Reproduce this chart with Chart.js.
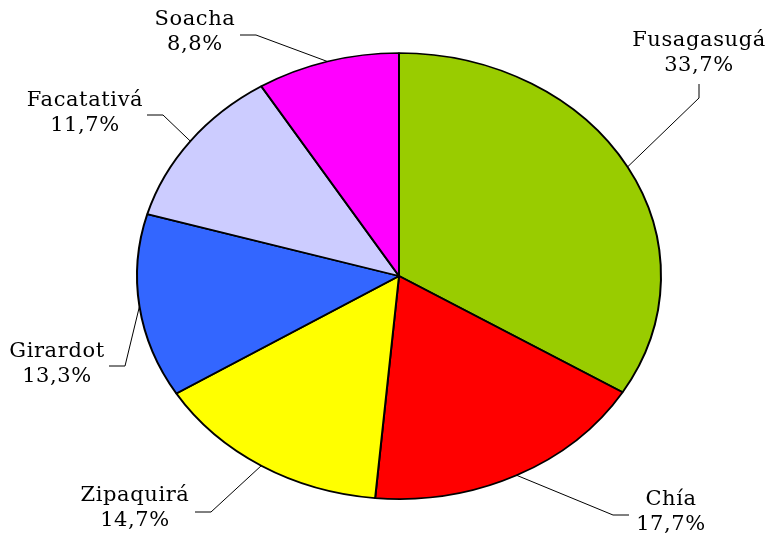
<!DOCTYPE html>
<html>
<head>
<meta charset="utf-8">
<script src="https://cdn.jsdelivr.net/npm/chart.js@4"></script>
<style>
html,body{margin:0;padding:0;background:#fff;}
#wrap{width:769px;height:537px;}
</style>
</head>
<body>
<div id="wrap"><canvas id="c" width="769" height="537"></canvas></div>
<script>
const categories = ['Fusagasugá', 'Chía', 'Zipaquirá', 'Girardot', 'Facatativá', 'Soacha'];
const percentages = [33.7, 17.7, 14.7, 13.3, 11.7, 8.8];
const sliceColors = ['#99CC00', '#FF0000', '#FFFF00', '#3366FF', '#CCCCFF', '#FF00FF'];

// Layout for the outside labels (knee point, line end, text centre), in canvas pixels
const labelLayout = [
  {knee: [699, 98], end: [699, 84], text: [699, 41]},
  {knee: [613, 515], end: [629, 515], text: [671, 500]},
  {knee: [211, 512], end: [195, 512], text: [135, 496]},
  {knee: [125, 366], end: [109, 366], text: [57, 352]},
  {knee: [163, 115], end: [147, 115], text: [85, 101]},
  {knee: [256, 35], end: [240, 35], text: [195, 20]}
];

const RX = 262, RY = 223;
const K = RY / RX;
const FONT = '21px "DejaVu Serif"';

const ellipsePlugin = {
  id: 'ellipse',
  beforeDatasetsDraw(chart) {
    const arc = chart.getDatasetMeta(0).data[0];
    const ctx = chart.ctx;
    ctx.save();
    ctx.translate(arc.x, arc.y);
    ctx.scale(1, K);
    ctx.translate(-arc.x, -arc.y);
  },
  afterDatasetsDraw(chart) {
    chart.ctx.restore();
  },
  afterDraw(chart) {
    const ctx = chart.ctx;
    const meta = chart.getDatasetMeta(0);
    ctx.save();
    ctx.strokeStyle = '#000';
    ctx.lineWidth = 1;
    ctx.fillStyle = '#000';
    ctx.font = FONT;
    if ('letterSpacing' in ctx) ctx.letterSpacing = '0.6px';
    ctx.textAlign = 'center';
    ctx.textBaseline = 'middle';
    meta.data.forEach((a, i) => {
      const mid = (a.startAngle + a.endAngle) / 2;
      const px = a.x + a.outerRadius * Math.cos(mid);
      const py = a.y + a.outerRadius * Math.sin(mid) * K;
      const L = labelLayout[i];
      ctx.beginPath();
      ctx.moveTo(px, py);
      ctx.lineTo(L.knee[0], L.knee[1]);
      ctx.lineTo(L.end[0], L.end[1]);
      ctx.stroke();
      ctx.fillText(categories[i], L.text[0], L.text[1]);
      ctx.fillText(percentages[i].toFixed(1).replace('.', ',') + '%', L.text[0], L.text[1] + 25);
    });
    ctx.restore();
  }
};

new Chart(document.getElementById('c'), {
  type: 'pie',
  data: {
    labels: categories,
    datasets: [{
      data: percentages,
      backgroundColor: sliceColors,
      borderColor: '#000000',
      borderWidth: 2,
      borderAlign: 'center',
      radius: RX,
      clip: false
    }]
  },
  options: {
    responsive: false,
    animation: false,
    events: [],
    layout: {padding: {left: 29, right: 0, top: 15, bottom: 0}},
    plugins: {legend: {display: false}, tooltip: {enabled: false}}
  },
  plugins: [ellipsePlugin]
});
</script>
</body>
</html>
